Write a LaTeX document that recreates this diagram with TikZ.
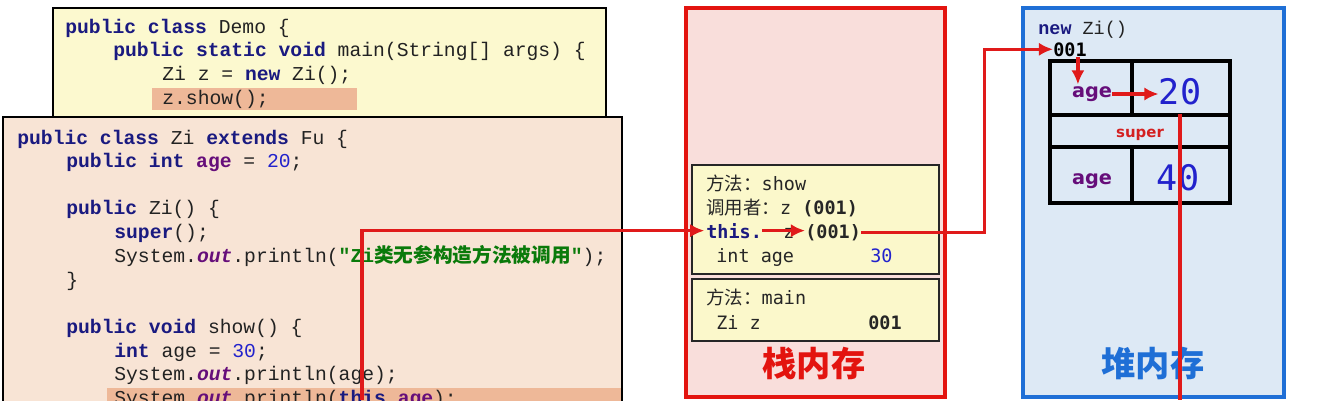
\documentclass[tikz,border=0pt]{standalone}
\usepackage{fontspec}
\usetikzlibrary{arrows.meta}
\newfontfamily\codefont{Liberation Mono}
\newfontfamily\cjk{Noto Sans CJK SC}
\newfontfamily\memfont{DejaVu Sans Mono}
\newfontfamily\labelfont{DejaVu Sans}

\definecolor{demofill}{HTML}{FCF9CF}
\definecolor{zifill}{HTML}{F8E4D5}
\definecolor{hilite}{HTML}{EEB898}
\definecolor{stackfill}{HTML}{F9DEDB}
\definecolor{stackred}{HTML}{E3140F}
\definecolor{heapfill}{HTML}{DDE9F5}
\definecolor{heapblue}{HTML}{1F6FD6}
\definecolor{framefill}{HTML}{FBF8CB}
\definecolor{kwblue}{HTML}{1A1A80}
\definecolor{fldpurple}{HTML}{660E7A}
\definecolor{numblue}{HTML}{2222CC}
\definecolor{strgreen}{HTML}{0A7A0A}
\definecolor{codegray}{HTML}{222222}
\definecolor{arrred}{HTML}{E01A1A}
\definecolor{supred}{HTML}{D42020}

\newcommand{\kw}[1]{{\bfseries\color{kwblue}#1}}
\newcommand{\fld}[1]{{\bfseries\color{fldpurple}#1}}
\newcommand{\jnum}[1]{{\color{numblue}#1}}
\newcommand{\outf}{{\bfseries\itshape\color{fldpurple}out}}
\newcommand{\str}[1]{{\bfseries\color{strgreen}#1}}

\begin{document}
\begin{tikzpicture}[x=0.02cm, y=-0.02cm,
    code/.style={anchor=base west, inner sep=0pt, text=codegray, font=\codefont\fontsize{11.2}{13}\selectfont},
    mem/.style={anchor=base west, inner sep=0pt, text=black!85, font=\memfont\fontsize{10.5}{12}\selectfont},
    membold/.style={mem, font=\memfont\bfseries\fontsize{10.5}{12}\selectfont},
    frame/.style={draw=black!85, line width=1.1pt, fill=framefill},
    arr/.style={draw=arrred, line width=1.9pt, -{Latex[length=8pt,width=7.5pt]}},
    redline/.style={draw=arrred, line width=1.9pt},
    cell/.style={inner sep=0pt, text=fldpurple, font=\labelfont\bfseries\fontsize{11}{13}\selectfont},
    big/.style={inner sep=0pt, text=numblue, font=\memfont\fontsize{20}{24}\selectfont},
    title/.style={inner sep=0pt, font=\cjk\bfseries\fontsize{19.5}{22}\selectfont}]
    \useasboundingbox (0,0) rectangle (1338,400);
    \clip (0,0) rectangle (1338,400);

    \draw[line width=1.2pt, fill=demofill] (53,8) rectangle (606,140);
    \fill[hilite] (152,88) rectangle (357,110);
    \node[code] (d1) at (65,33) {\kw{public class} Demo \{};
    \node[code] (d2) at (113,56) {\kw{public static void} main(String[] args) \{};
    \node[code] (d3) at (162,80) {Zi z = \kw{new} Zi();};
    \node[code] (d4) at (162,104) {z.show();};

    \fill[zifill] (3,117) rectangle (622,430);
    \fill[hilite] (107,388) rectangle (622,430);
    \draw[line width=1.2pt] (3,117) rectangle (622,430);
    \node[code] (z1) at (17,144) {\kw{public class} Zi \kw{extends} Fu \{};
    \node[code] (z2) at (66,167) {\kw{public int} \fld{age} = \jnum{20};};
    \node[code] (z3) at (66,214) {\kw{public} Zi() \{};
    \node[code] (z4) at (114,238) {\kw{super}();};
    \node[code] (z5) at (114,262) {System.\outf.println(\str{"Zi{\cjk 类无参构造方法被调用}"});};
    \node[code] (z6) at (66,286) {\}};
    \node[code] (z7) at (66,333) {\kw{public void} show() \{};
    \node[code] (z8) at (114,357) {\kw{int} age = \jnum{30};};
    \node[code] (z9) at (114,380) {System.\outf.println(age);};
    \node[code] (z10) at (114,404) {System.\outf.println(\kw{this}.\fld{age});};

    \draw[draw=stackred, line width=2.3pt, fill=stackfill] (686,8) rectangle (945,397);
    \draw[frame] (692,165) rectangle (939,274);
    \draw[frame] (692,279) rectangle (939,341);
    \node[mem] (sm1) at (706,190) {{\cjk 方法：}show};
    \node[mem] (sm2) at (706,214) {{\cjk 调用者：}z \textbf{(001)}};
    \node[membold, text=kwblue] (sthis) at (706,238) {this.};
    \node[mem] (sz) at (783,238) {z};
    \node[membold] (s001) at (805,238) {(001)};
    \node[mem] (sage) at (716,262) {int age};
    \node[mem, text=numblue] (s30) at (870,262) {30};
    \node[mem] (sm3) at (706,304) {{\cjk 方法：}main};
    \node[mem] (szi) at (716,329) {Zi z};
    \node[membold] (sz001) at (868,329) {001};
    \node[title, text=stackred] (stack) at (814,363) {栈内存};

    \draw[draw=heapblue, line width=2.3pt, fill=heapfill] (1023,8) rectangle (1284,397);
    \node[anchor=base west, inner sep=0pt, text=codegray, font=\codefont\fontsize{10.5}{12}\selectfont] (hnew) at (1038,34) {\kw{new} Zi()};
    \node[membold, text=black] (h001) at (1053,56) {001};
    \draw[line width=2.3pt] (1050,61) rectangle (1230,203);
    \draw[line width=2.3pt] (1132,61) -- (1132,115) (1050,115) -- (1230,115)
        (1050,147) -- (1230,147) (1132,147) -- (1132,203);
    \node[cell] (hage1) at (1092,94) {age};
    \node[big] (h20) at (1180,92) {20};
    \node[cell, text=supred, font=\labelfont\bfseries\fontsize{8.5}{10}\selectfont] (hsuper) at (1140,135) {super};
    \node[cell] (hage2) at (1092,181) {age};
    \node[big] (h40) at (1178,178) {40};
    \node[title, text=heapblue] (heap) at (1153,363) {堆内存};

    \coordinate (thisref) at (362,400);
    \coordinate (outref) at (1181,400);
    \draw[arr, shorten >=1pt] (thisref) |- (sthis.west);
    \draw[arr] (sthis.east) -- (sthis.east -| s001.west);
    \draw[arr] (s001.east) -- ++(123,0) |- (h001.west);
    \draw[arr, shorten >=1pt] (h001.south) ++(4.5pt,0) coordinate (hdown) -- (hdown |- hage1.north);
    \draw[arr] (hage1.east) -- (hage1.east -| h20.west);
    \draw[redline] ([yshift=-5pt]h20.south) -- (h20.south |- outref);
\end{tikzpicture}
\end{document}
